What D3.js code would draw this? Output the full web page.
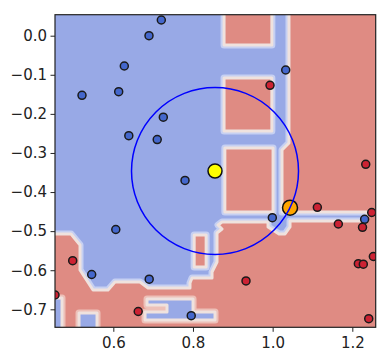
<!DOCTYPE html>
<html>
<head>
<meta charset="utf-8">
<script src="https://cdn.jsdelivr.net/npm/d3@7"></script>
<style>
  body { margin: 0; background: #fff; }
  svg { display: block; }
  text { font-family: "DejaVu Sans", sans-serif; }
</style>
</head>
<body>
<div id="chart"></div>
<script>
/** Size of the page and of the plot area. */
const WIDTH = 390;
const HEIGHT = 362;
const LEFT = 55, RIGHT = 375.7, TOP = 14.7, BOTTOM = 327.3;

/** Axis ranges and ticks. */
const xDomain = [0.4536, 1.2587];
const yDomain = [-0.746, 0.0537];
const xTicks = [0.6, 0.8, 1.0, 1.2];
const yTicks = [0.0, -0.1, -0.2, -0.3, -0.4, -0.5, -0.6, -0.7];

/** Training points, class 0 (blue) and class 1 (red). */
const bluePoints = [
  [0.7205, 0.0401], [0.6896, 0.0000], [0.6276, -0.0775], [0.6135, -0.1433],
  [0.5214, -0.1525], [0.7255, -0.2085], [0.6389, -0.2558], [0.7102, -0.2658],
  [0.7800, -0.3704], [0.6062, -0.4958], [0.5457, -0.6109], [0.6901, -0.6229],
  [0.7956, -0.7163], [1.0328, -0.0878], [0.9992, -0.4656], [1.2309, -0.4697]
];
const redPoints = [
  [0.9934, -0.1269], [1.2337, -0.3290], [1.1122, -0.4390], [1.2487, -0.4523],
  [1.1649, -0.4817], [1.2256, -0.4902], [1.2528, -0.5649], [1.2151, -0.5833],
  [1.2276, -0.5846], [0.9331, -0.6275], [1.2412, -0.7240], [0.4980, -0.5756],
  [0.4536, -0.6634], [0.6625, -0.7056]
];

/** Query point and its farthest counted neighbour. */
const query = [0.8553, -0.3461];
const neighbour = [1.0436, -0.4400];

/** Red decision region, outline in data units. */
const redRegion = [
  [1.041, 0.07], [1.041, -0.2745], [1.0235, -0.2924], [1.0235, -0.451],
  [1.2369, -0.451], [1.2369, -0.4741], [1.0436, -0.4741], [1.0436, -0.4894],
  [1.0311, -0.5073], [1.0160, -0.5073], [0.9884, -0.4894], [0.9884, -0.4766],
  [0.8729, -0.4766], [0.8628, -0.4843], [0.8729, -0.4945], [0.8603, -0.5048],
  [0.8603, -0.5789], [0.8478, -0.6045], [0.8478, -0.6199], [0.7976, -0.6199],
  [0.7925, -0.6327], [0.7925, -0.6455], [0.6871, -0.6455], [0.6670, -0.6301],
  [0.6042, -0.6301], [0.5867, -0.6506], [0.5490, -0.6506], [0.5164, -0.5994],
  [0.5164, -0.5355], [0.4938, -0.5073], [0.441, -0.5073], [0.441, -0.77],
  [1.27, -0.77], [1.27, 0.07]
];

/** Red blocks inside the blue area: [x0, x1, y0, y1]. */
const redBlocks = [
  [0.878, 0.998, 0.07, -0.024],
  [0.878, 0.998, -0.108, -0.244],
  [0.880, 1.001, -0.287, -0.451],
  [0.803, 0.833, -0.510, -0.592]
];

/** Blue patches inside the red area. */
const blueHoles = [
  [[0.6846, -0.6736], [0.8001, -0.6736], [0.8001, -0.7069], [0.8553, -0.7069],
   [0.8553, -0.7273], [0.6796, -0.7273], [0.6796, -0.7069], [0.7348, -0.7069],
   [0.7348, -0.6889], [0.6846, -0.6889]],
  [[0.5139, -0.7094], [0.5591, -0.7094], [0.5591, -0.77], [0.5139, -0.77]],
  [[0.441, -0.671], [0.4712, -0.671], [0.4712, -0.77], [0.441, -0.77]]
];

const BLUE = "#98a9e6";
const RED = "#df8b83";
const BLUE_HALO = "#c6d0f2";
const RED_HALO = "#edc0b8";
const PALE = "#efe2de";

const x = d3.scaleLinear().domain(xDomain).range([LEFT, RIGHT]);
const y = d3.scaleLinear().domain(yDomain).range([BOTTOM, TOP]);

const svg = d3.select("#chart").append("svg")
    .attr("width", WIDTH)
    .attr("height", HEIGHT);

svg.append("rect")
    .attr("width", WIDTH)
    .attr("height", HEIGHT)
    .attr("fill", "#fff");

svg.append("clipPath")
    .attr("id", "plot-clip")
    .append("rect")
    .attr("x", LEFT)
    .attr("y", TOP)
    .attr("width", RIGHT - LEFT)
    .attr("height", BOTTOM - TOP);

const plot = svg.append("g").attr("clip-path", "url(#plot-clip)");

// Blue background region
plot.append("rect")
    .attr("x", LEFT)
    .attr("y", TOP)
    .attr("width", RIGHT - LEFT)
    .attr("height", BOTTOM - TOP)
    .attr("fill", BLUE);

const line = d3.line().x(d => x(d[0])).y(d => y(d[1]));
const shape = d => line(d) + "Z";

// Draw a region with a soft pale border, like the interpolated image
function region(g, d, fill, halo) {
    g.append("path")
        .attr("d", d)
        .attr("fill", "none")
        .attr("stroke", halo)
        .attr("stroke-width", 7)
        .attr("stroke-linejoin", "round");
    g.append("path")
        .attr("d", d)
        .attr("fill", fill)
        .attr("stroke", PALE)
        .attr("stroke-width", 3)
        .attr("stroke-linejoin", "round");
}

region(plot, shape(redRegion), RED, BLUE_HALO);

redBlocks.forEach(b => {
    const pts = [[b[0], b[2]], [b[1], b[2]], [b[1], b[3]], [b[0], b[3]]];
    region(plot, shape(pts), RED, BLUE_HALO);
});

blueHoles.forEach(h => region(plot, shape(h), BLUE, RED_HALO));

// Training points
const points = plot.append("g");
points.selectAll(".blue")
    .data(bluePoints)
    .enter()
    .append("circle")
    .attr("cx", d => x(d[0]))
    .attr("cy", d => y(d[1]))
    .attr("r", 4)
    .attr("fill", "#4467cc")
    .attr("stroke", "#1a1a1a")
    .attr("stroke-width", 1.5);

points.selectAll(".red")
    .data(redPoints)
    .enter()
    .append("circle")
    .attr("cx", d => x(d[0]))
    .attr("cy", d => y(d[1]))
    .attr("r", 4)
    .attr("fill", "#cc2233")
    .attr("stroke", "#1a1a1a")
    .attr("stroke-width", 1.5);

// Query point and neighbour
plot.append("circle")
    .attr("cx", x(query[0]))
    .attr("cy", y(query[1]))
    .attr("r", 7)
    .attr("fill", "#ffff00")
    .attr("stroke", "#111")
    .attr("stroke-width", 1.5);

plot.append("circle")
    .attr("cx", x(neighbour[0]))
    .attr("cy", y(neighbour[1]))
    .attr("r", 7.5)
    .attr("fill", "#ffa500")
    .attr("stroke", "#111")
    .attr("stroke-width", 1.5);

// Circle through the neighbour
const radius = Math.hypot(x(neighbour[0]) - x(query[0]), y(neighbour[1]) - y(query[1]));
plot.append("circle")
    .attr("cx", x(query[0]))
    .attr("cy", y(query[1]))
    .attr("r", radius)
    .attr("fill", "none")
    .attr("stroke", "#0000ff")
    .attr("stroke-width", 1.5);

// Axes
const fmt = d3.format(".1f");
const xAxis = svg.append("g")
    .attr("transform", `translate(0,${BOTTOM})`)
    .call(d3.axisBottom(x).tickValues(xTicks).tickFormat(fmt)
        .tickSize(4.5).tickSizeOuter(0).tickPadding(5.5));
const yAxis = svg.append("g")
    .attr("transform", `translate(${LEFT},0)`)
    .call(d3.axisLeft(y).tickValues(yTicks).tickFormat(fmt)
        .tickSize(4.5).tickSizeOuter(0).tickPadding(3.5));

[xAxis, yAxis].forEach(a => {
    a.select(".domain").remove();
    a.selectAll("line").attr("stroke", "#222").attr("stroke-width", 1);
    a.selectAll("text").attr("font-size", 15).attr("fill", "#222")
        .attr("font-family", "DejaVu Sans");
});

// Frame
svg.append("rect")
    .attr("x", LEFT)
    .attr("y", TOP)
    .attr("width", RIGHT - LEFT)
    .attr("height", BOTTOM - TOP)
    .attr("fill", "none")
    .attr("stroke", "#222")
    .attr("stroke-width", 1.2);
</script>
</body>
</html>
